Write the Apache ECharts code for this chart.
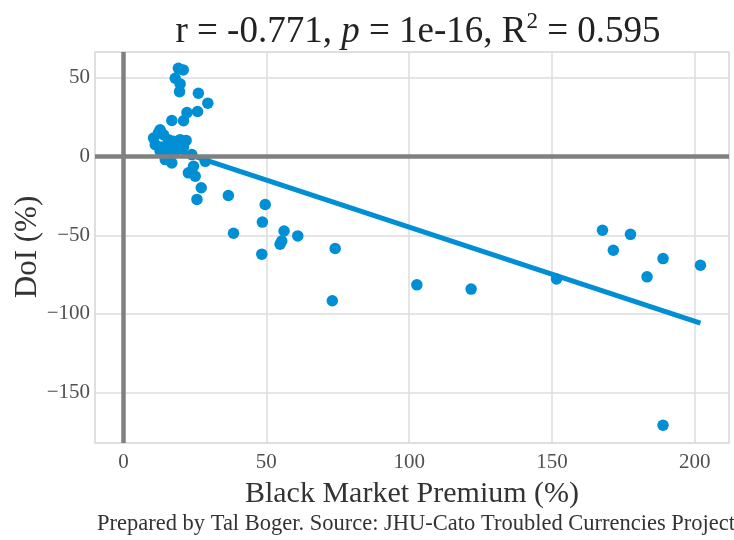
<!DOCTYPE html>
<html>
<head>
<meta charset="utf-8">
<script src="https://cdn.jsdelivr.net/npm/echarts@6/dist/echarts.min.js"></script>
<style>
  html, body { margin: 0; padding: 0; background: #fff; }
  #main { width: 734px; height: 540px; }
</style>
</head>
<body>
<div id="main"></div>
<script>
// black market premium (%) vs DoI (%)
var premium = [19.2, 20.9, 18.1, 19.8, 19.6, 26.2, 29.5, 22.2, 25.9, 16.9,
  21.0, 12.8, 10.5, 12.2, 14.0, 15.7, 17.5, 19.8, 21.9, 11.1,
  13.4, 16.3, 18.7, 21.0, 12.8, 15.2, 18.1, 14.6, 16.9, 23.9,
  24.5, 22.7, 25.1, 27.2, 25.7, 36.7, 28.6, 49.6, 48.6, 38.5,
  56.2, 55.4, 54.8, 61.0, 48.4, 74.1, 73.1, 102.7, 121.7, 151.6,
  167.7, 177.5, 171.5, 188.9, 183.3, 202.0, 188.9];
var doi = [56.1, 55.1, 49.8, 46.2, 41.3, 40.3, 34.0, 28.0, 28.7, 23.0,
  22.8, 17.1, 11.8, 15.0, 13.9, 10.8, 9.7, 10.8, 10.3, 7.6,
  6.1, 6.5, 6.1, 6.1, 3.4, 2.3, 3.4, -1.9, -4.0, 1.3,
  -6.1, -10.3, -12.5, -19.8, -27.2, -24.7, -3.0, -30.4, -41.6, -48.7,
  -47.3, -53.6, -55.7, -50.4, -62.0, -58.4, -91.6, -81.5, -84.2, -77.8,
  -46.8, -49.4, -59.5, -64.8, -76.4, -69.0, -170.7];
// least squares fit end points
var fitX = [10.5, 202.0];
var fitY = [8.7, -105.8];

var blue = '#008fd5';
var serif = 'Liberation Serif';

var points = premium.map(function (x, i) { return [x, doi[i]]; });
var fitLine = fitX.map(function (x, i) { return [x, fitY[i]]; });

function tickFmt(v) {
  if (v % 50 !== 0) return '';
  return v < 0 ? '\u2212' + (-v) : String(v);
}

var chart = echarts.init(document.getElementById('main'));
var option = {
  backgroundColor: '#fff',
  animation: false,
  title: [{
    left: 413,
    top: 5,
    textAlign: 'center',
    text: '{a|r = -0.771, }{i|p}{a| = 1e-16, R}{s|2}{a| = 0.595}',
    textStyle: {
      rich: {
        a: { fontFamily: serif, fontSize: 37, fontWeight: 'normal', color: '#222' },
        i: { fontFamily: serif, fontSize: 37, fontWeight: 'normal', color: '#222', fontStyle: 'italic' },
        s: { fontFamily: serif, fontSize: 23, fontWeight: 'normal', color: '#222', padding: [0, 0, 22, 0] }
      }
    }
  }, {
    left: 97,
    top: 513,
    padding: 0,
    text: 'Prepared by Tal Boger. Source: JHU-Cato Troubled Currencies Project',
    textStyle: { fontFamily: serif, fontSize: 22.5, fontWeight: 'normal', color: '#333' }
  }],
  graphic: [{
    type: 'text',
    x: 28,
    y: 247,
    rotation: Math.PI / 2,
    style: {
      text: 'DoI (%)',
      font: '31px "Liberation Serif"',
      fill: '#333',
      align: 'center',
      verticalAlign: 'middle'
    }
  }],
  grid: {
    left: 95, right: 5, top: 52, bottom: 97,
    outerBoundsMode: 'none',
    containLabel: false,
    show: true, borderColor: '#dedede', borderWidth: 1.5
  },
  xAxis: {
    type: 'value',
    min: -10,
    max: 212,
    splitNumber: 5,
    name: 'Black Market Premium (%)',
    nameLocation: 'middle',
    nameGap: 36,
    nameTextStyle: { fontFamily: serif, fontSize: 30, color: '#333' },
    axisLine: { show: false },
    axisTick: { show: false },
    axisLabel: { fontFamily: serif, fontSize: 21, color: '#505050', margin: 9, formatter: tickFmt },
    splitLine: { lineStyle: { color: '#dcdcdc', width: 1.5 } }
  },
  yAxis: {
    type: 'value',
    min: -182,
    max: 66.5,
    splitNumber: 5,
    axisLine: { show: false },
    axisTick: { show: false },
    axisLabel: { fontFamily: serif, fontSize: 21, color: '#505050', margin: 5, formatter: tickFmt },
    splitLine: { lineStyle: { color: '#dcdcdc', width: 1.5 } }
  },
  series: [{
    type: 'scatter',
    data: points,
    symbolSize: 11.5,
    itemStyle: { color: blue, opacity: 1 },
    z: 2
  }, {
    // zero lines drawn over the points
    type: 'line',
    data: [],
    z: 3,
    markLine: {
      silent: true,
      symbol: 'none',
      label: { show: false },
      lineStyle: { color: '#808080', width: 4.5, type: 'solid' },
      data: [{ xAxis: 0 }, { yAxis: 0 }]
    }
  }, {
    type: 'line',
    data: fitLine,
    showSymbol: false,
    lineStyle: { color: blue, width: 5 },
    z: 4
  }]
};
chart.setOption(option);
</script>
</body>
</html>
